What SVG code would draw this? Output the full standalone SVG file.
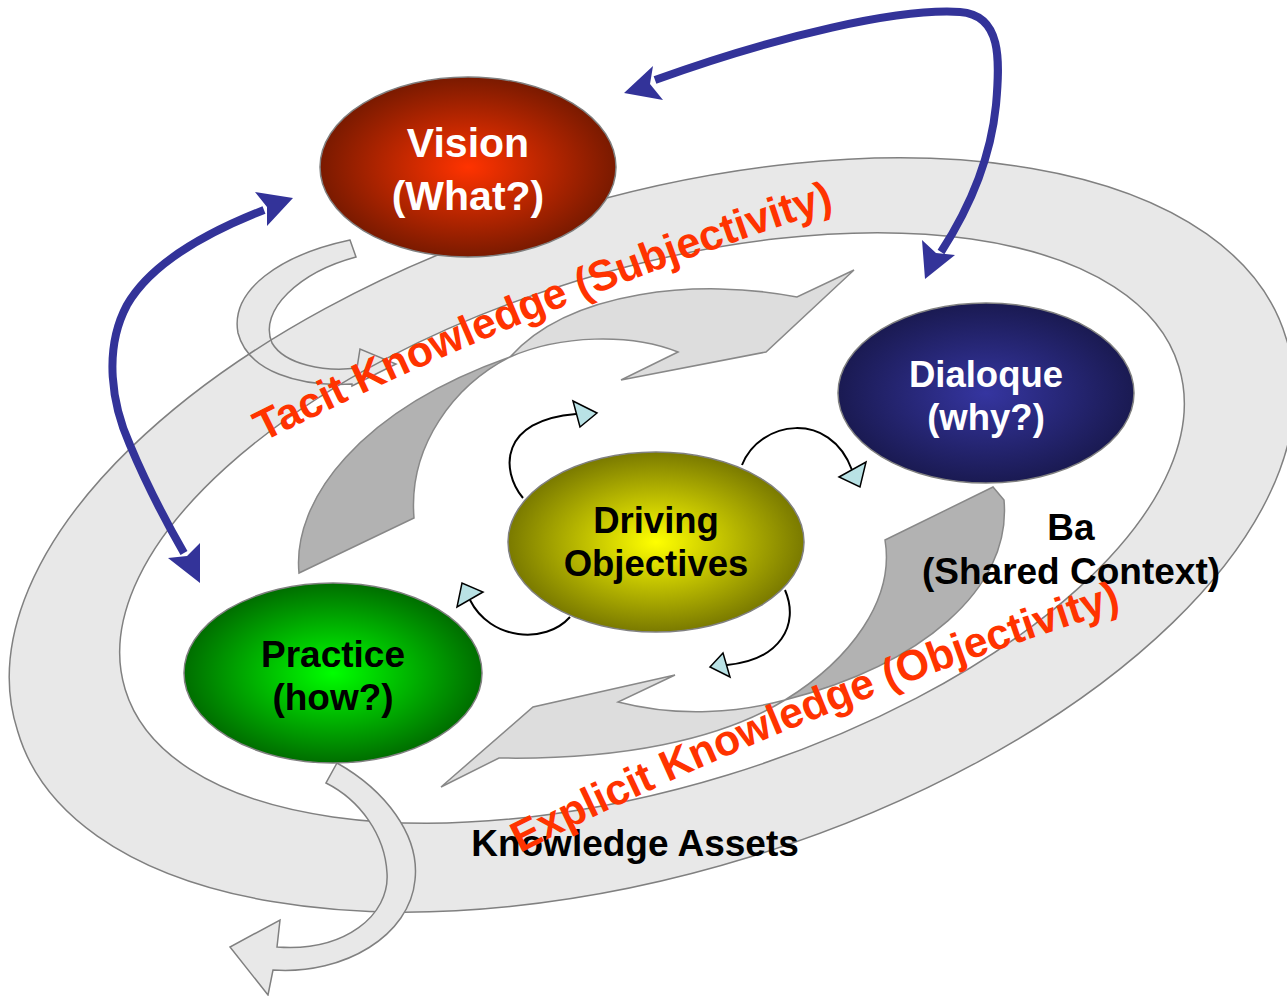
<svg xmlns="http://www.w3.org/2000/svg" width="1287" height="996" viewBox="0 0 1287 996">
<defs>
<style>
.ring{fill:#e8e8e8;fill-rule:evenodd;stroke:none}
.ringline{fill:none;stroke:#808080;stroke-width:1.5}
.uarrow{fill:#e8e8e8;stroke:#808080;stroke-width:1.5;stroke-linejoin:miter}
.dark{fill:#b2b2b2;stroke:#888888;stroke-width:1.5}
.light{fill:#dddddd;stroke:#888888;stroke-width:1.5;stroke-linejoin:miter}
.node{stroke:#808080;stroke-width:1.5}
.lbl{font-family:"Liberation Sans",Arial,sans-serif;font-weight:bold;text-anchor:middle}
.white{fill:#ffffff}
.black{fill:#000000}
.red{font-family:"Liberation Sans",Arial,sans-serif;font-weight:bold;fill:#ff3300;font-size:43px}
.blue{fill:none;stroke:#333399;stroke-width:8;stroke-linecap:butt}
.bh{fill:#333399}
.sm{fill:none;stroke:#000000;stroke-width:2}
.sh{fill:#b9e2e5;stroke:#000000;stroke-width:1.5;stroke-linejoin:miter}
</style>
<radialGradient id="gV" cx="50%" cy="50%" r="50%"><stop offset="0" stop-color="#ff3300"/><stop offset="1" stop-color="#7a1a00"/></radialGradient>
<radialGradient id="gD" cx="50%" cy="50%" r="50%"><stop offset="0" stop-color="#3535a0"/><stop offset="1" stop-color="#1a1a52"/></radialGradient>
<radialGradient id="gP" cx="50%" cy="50%" r="50%"><stop offset="0" stop-color="#00ff00"/><stop offset="1" stop-color="#006e00"/></radialGradient>
<radialGradient id="gO" cx="50%" cy="50%" r="50%"><stop offset="0" stop-color="#ffff00"/><stop offset="1" stop-color="#7a7a00"/></radialGradient>
<path id="tacitPath" d="M263,442 A4000,4000 0 0 1 855,202"/>
<path id="explicitPath" d="M520,853 A4000,4000 0 0 1 1150,600"/>
</defs>

<g id="ring">
<path class="ring" d="M1286.3,338.7 A664,334 -17.2 1 1 17.7,731.3 A664,334 -17.2 1 1 1286.3,338.7 Z M1178.8,366.5 A551,258 -17.05 1 1 125.2,689.5 A551,258 -17.05 1 1 1178.8,366.5 Z"/>
</g>

<g id="uturn-top">
<path class="uarrow" d="M350,240 L356,257 C300,272 258,310 272,343 C285,365 325,372 357,368 L360,349 L396,364 L352,386 L352,384 C300,387 248,372 238,333 C230,290 280,255 350,240 Z"/>
</g>

<g id="ring-outline">
<path class="ringline" d="M1286.3,338.7 A664,334 -17.2 1 1 17.7,731.3 A664,334 -17.2 1 1 1286.3,338.7 Z M1178.8,366.5 A551,258 -17.05 1 1 125.2,689.5 A551,258 -17.05 1 1 1178.8,366.5 Z"/>
</g>

<g id="uturn-bottom">
<path class="uarrow" d="M337,763 C385,790 420,835 415,880 C410,935 345,975 273,970 L268,995 L230,947 L280,920 L277,947 C345,952 390,915 387,873 C385,835 360,800 326,783 Z"/>
</g>

<g id="cycle-arrows">
<path class="light" d="M510,357 C570,290 700,278 797,297 L854,270 L766,352 L621,380 L678,352 C630,333 560,335 510,357 Z"/>
<path class="dark" d="M299,573 C292,500 360,410 510,357 C455,385 408,445 414,518 Z"/>
<path class="light" d="M785,700 C720,740 620,760 499,758 L441,787 L533,707 L675,675 L618,702 C680,718 740,712 785,700 Z"/>
<path class="dark" d="M1004,500 C1012,590 920,665 785,700 C850,660 895,600 885,540 L993,487 Z"/>
</g>

<g id="connectors">
<path class="blue" d="M655,80 C780,35 900,8 960,12 C1002,15 1000,60 996,105 C990,165 965,215 941,252"/>
<polygon class="bh" points="624,93 653,66 650,84 663,100"/>
<polygon class="bh" points="925,279 922,240 936,253 955,255"/>
<path class="blue" d="M264,210 C200,235 150,265 127,305 C103,350 112,405 130,445 C148,488 165,520 184,553"/>
<polygon class="bh" points="293,198 255,192 267,207 267,226"/>
<polygon class="bh" points="200,583 168,558 187,556 200,543"/>
<path class="sm" d="M523,498 C500,470 500,420 576,414"/>
<polygon class="sh" points="573,401 580,427 597,413"/>
<path class="sm" d="M742,465 C760,420 830,410 852,470"/>
<polygon class="sh" points="839,477 866,462 860,487"/>
<path class="sm" d="M785,590 C800,625 780,660 727,665"/>
<polygon class="sh" points="723,653 730,677 710,667"/>
<path class="sm" d="M570,617 C545,645 490,640 470,600"/>
<polygon class="sh" points="483,592 457,607 462,583"/>
</g>

<g id="vision">
<ellipse class="node" cx="468" cy="167" rx="148" ry="90" fill="url(#gV)"/>
<text class="lbl white" x="468" y="157" font-size="41">Vision</text>
<text class="lbl white" x="468" y="210" font-size="41">(What?)</text>
</g>

<g id="dialoque">
<ellipse class="node" cx="986" cy="393" rx="148" ry="90" fill="url(#gD)"/>
<text class="lbl white" x="986" y="387" font-size="36.5">Dialoque</text>
<text class="lbl white" x="986" y="430" font-size="36.5">(why?)</text>
</g>

<g id="practice">
<ellipse class="node" cx="333" cy="673" rx="149" ry="90" fill="url(#gP)"/>
<text class="lbl black" x="333" y="667" font-size="37">Practice</text>
<text class="lbl black" x="333" y="710" font-size="37">(how?)</text>
</g>

<g id="driving">
<ellipse class="node" cx="656" cy="542" rx="148" ry="90" fill="url(#gO)"/>
<text class="lbl black" x="656" y="533" font-size="36.5">Driving</text>
<text class="lbl black" x="656" y="576" font-size="36.5">Objectives</text>
</g>

<g id="labels">
<text class="lbl black" x="1071" y="540" font-size="37">Ba</text>
<text class="lbl black" x="1071" y="584" font-size="37">(Shared Context)</text>
<text class="lbl black" x="635" y="856" font-size="37">Knowledge Assets</text>
<text class="red"><textPath href="#tacitPath" textLength="618" lengthAdjust="spacingAndGlyphs">Tacit Knowledge (Subjectivity)</textPath></text>
<text class="red"><textPath href="#explicitPath" textLength="650" lengthAdjust="spacingAndGlyphs">Explicit Knowledge (Objectivity)</textPath></text>
</g>
</svg>
